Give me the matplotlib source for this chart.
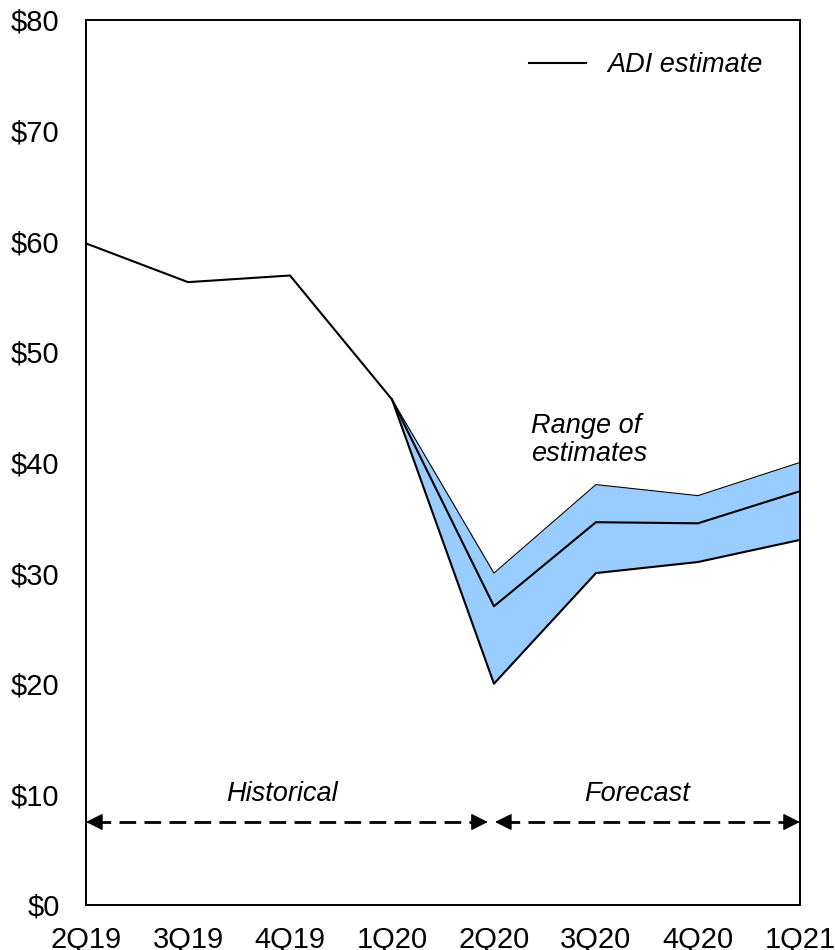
import numpy as np
import matplotlib.pyplot as plt

plt.rcParams['font.family'] = ['Liberation Sans', 'DejaVu Sans']

quarters = ['2Q19', '3Q19', '4Q19', '1Q20', '2Q20', '3Q20', '4Q20', '1Q21']
adi_estimate = [59.8, 56.3, 56.9, 45.7, 27.0, 34.6, 34.5, 37.4]

# range of estimates starts at the last historical quarter
range_quarters = ['1Q20', '2Q20', '3Q20', '4Q20', '1Q21']
range_high = [45.7, 30.0, 38.0, 37.0, 40.0]
range_low = [45.7, 20.0, 30.0, 31.0, 33.0]

y_ticks = [0, 10, 20, 30, 40, 50, 60, 70, 80]

FS = 21      # tick labels
FS_IT = 19.5 # italic annotations

x = np.arange(len(quarters))
xr = np.array([quarters.index(q) for q in range_quarters])

fig = plt.figure(figsize=(8.35, 9.5), dpi=100)
ax = fig.add_axes([0.103, 0.0474, 0.855, 0.9316])

ax.fill_between(xr, range_low, range_high, color='#99CCFF', lw=0, zorder=1)
ax.plot(xr, range_high, color='black', lw=0.8, zorder=2)
ax.plot(xr, range_low, color='black', lw=1.5, zorder=2)
ax.plot(x, adi_estimate, color='black', lw=1.5, zorder=3, label='ADI estimate')

# historical / forecast arrows: dashed shaft plus solid heads
arrow_y = 7.5
split = quarters.index('2Q20')
head = dict(arrowstyle='-|>', lw=1, color='black', mutation_scale=26,
            shrinkA=0, shrinkB=0)
for x0, x1 in [(0, split - 0.06), (split + 0.01, len(quarters) - 1)]:
    ax.plot([x0 + 0.08, x1 - 0.08], [arrow_y, arrow_y], color='black',
            lw=2, ls=(0, (6, 3)), zorder=4)
    ax.annotate('', xy=(x0, arrow_y), xytext=(x0 + 0.15, arrow_y),
                arrowprops=head, zorder=4)
    ax.annotate('', xy=(x1, arrow_y), xytext=(x1 - 0.15, arrow_y),
                arrowprops=head, zorder=4)
ax.text(1.92, 10, 'Historical', fontsize=FS_IT, style='italic',
        ha='center', va='center')
ax.text(5.4, 10, 'Forecast', fontsize=FS_IT, style='italic',
        ha='center', va='center')
ax.text(4.36, 42.0, 'Range of\nestimates', fontsize=FS_IT, style='italic',
        ha='left', va='center', linespacing=1.1)

leg = ax.legend(loc='upper right', frameon=False, fontsize=FS_IT,
                handlelength=2.1, handletextpad=0.8,
                bbox_to_anchor=(0.982, 0.991))
for t in leg.get_texts():
    t.set_style('italic')

ax.set_xlim(0, len(quarters) - 1)
ax.set_ylim(0, 80)
ax.set_xticks(x)
ax.set_xticklabels(quarters, fontsize=FS)
ax.set_yticks(y_ticks)
ax.set_yticklabels([f'${v}' for v in y_ticks], fontsize=FS)
ax.tick_params(length=0)
ax.tick_params(axis='x', pad=15)
ax.tick_params(axis='y', pad=19)
for s in ax.spines.values():
    s.set_linewidth(1.4)

fig.savefig('out.png', dpi=100)
